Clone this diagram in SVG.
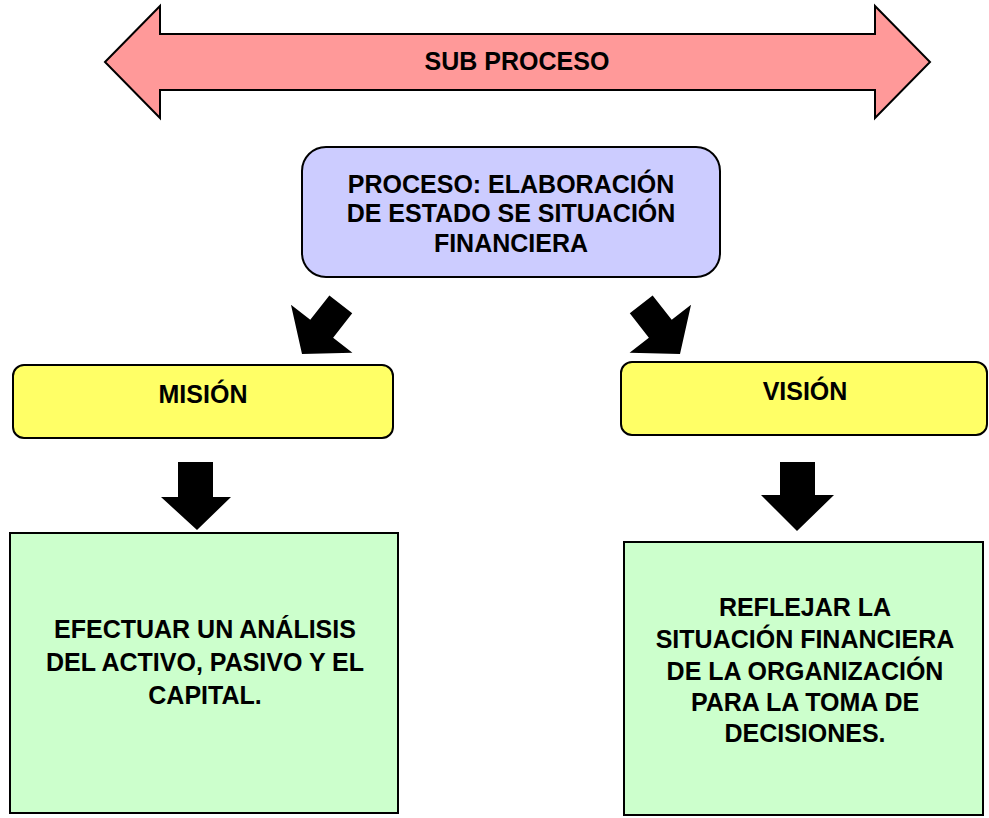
<svg xmlns="http://www.w3.org/2000/svg" width="989" height="818" viewBox="0 0 989 818">
<style>
  text { font-family: "Liberation Sans", Arial, sans-serif; font-weight: bold; font-size: 25px; fill: #000; text-anchor: middle; }
  .shape { stroke: #000; stroke-width: 2; stroke-linejoin: miter; }
  .blk { fill: #000; stroke: none; }
</style>
<defs>
  <polygon id="downArrow" points="0,0 -39,-32 -14.5,-32 -14.5,-63 14.5,-63 14.5,-32 39,-32"/>
</defs>
<g id="subproceso">
  <polygon class="shape" fill="#ff9999" points="105,62 160,6 160,34 875,34 875,6 930,62 875,118 875,90 160,90 160,118"/>
  <text x="517" y="70">SUB PROCESO</text>
</g>
<g id="proceso">
  <rect class="shape" fill="#ccccff" x="302" y="147" width="418" height="130" rx="24" ry="24"/>
  <text x="511" y="193">PROCESO: ELABORACIÓN</text>
  <text x="511" y="222">DE ESTADO SE SITUACIÓN</text>
  <text x="511" y="252">FINANCIERA</text>
</g>
<g id="mision">
  <rect class="shape" fill="#ffff66" x="13" y="365" width="380" height="73" rx="11" ry="11"/>
  <text x="203" y="403">MISIÓN</text>
</g>
<g id="vision">
  <rect class="shape" fill="#ffff66" x="621" y="362" width="366" height="73" rx="11" ry="11"/>
  <text x="805" y="400">VISIÓN</text>
</g>
<g id="mision-detalle">
  <rect class="shape" fill="#ccffcc" x="10" y="533" width="388" height="280"/>
  <text x="205" y="638">EFECTUAR UN ANÁLISIS</text>
  <text x="205" y="671">DEL ACTIVO, PASIVO Y EL</text>
  <text x="205" y="704">CAPITAL.</text>
</g>
<g id="vision-detalle">
  <rect class="shape" fill="#ccffcc" x="624" y="542" width="359" height="273"/>
  <text x="805" y="616">REFLEJAR LA</text>
  <text x="805" y="648">SITUACIÓN FINANCIERA</text>
  <text x="805" y="680">DE LA ORGANIZACIÓN</text>
  <text x="805" y="711">PARA LA TOMA DE</text>
  <text x="805" y="742">DECISIONES.</text>
</g>
<g id="connectors">
  <use href="#downArrow" class="blk" transform="translate(302,354) rotate(38)"/>
  <use href="#downArrow" class="blk" transform="translate(680,354) rotate(-38)"/>
  <polygon class="blk" points="178,462 213,462 213,497 231,497 197,530 161,497 178,497"/>
  <polygon class="blk" points="780,462 815,462 815,495 834,495 797,531 761,495 780,495"/>
</g>
</svg>
